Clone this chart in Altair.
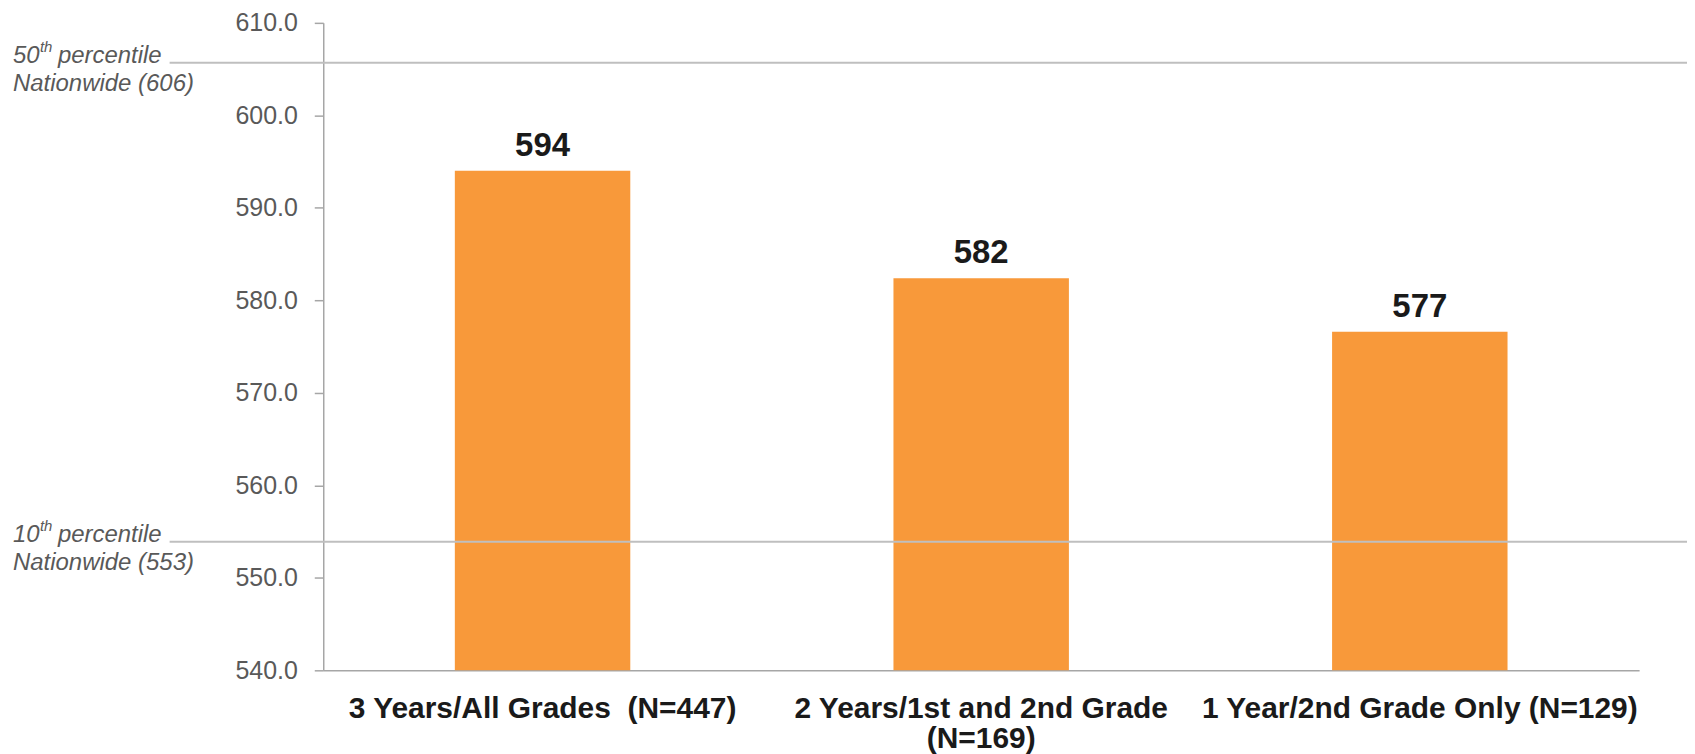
import altair as alt
import pandas as pd

# ---- data ----
categories = [
    "3 Years/All Grades\u00a0\u00a0(N=447)",
    "2 Years/1st and 2nd Grade\n(N=169)",
    "1 Year/2nd Grade Only (N=129)",
]
scores = [594.0, 582.4, 576.6]

# reference lines (as drawn in the picture) and their annotations
line_values = [605.7, 553.9]
line_ranks = ["50", "10"]
line_names = ["Nationwide (606)", "Nationwide (553)"]

y_ticks = [540, 550, 560, 570, 580, 590, 600, 610]

bars_df = pd.DataFrame({"category": categories, "score": scores})
lines_df = pd.DataFrame({"value": line_values, "rank": line_ranks, "name": line_names})

FONT = "Liberation Sans"
BAR_COLOR = "#F8993A"
AXIS_GRAY = "#A6A6A6"
TEXT_GRAY = "#595959"

x_enc = alt.X(
    "category:N",
    sort=categories,
    title=None,
    scale=alt.Scale(paddingInner=0.6, paddingOuter=0.3),
    axis=alt.Axis(
        labelAngle=0,
        labelFont=FONT,
        labelFontSize=30,
        labelFontWeight="bold",
        labelColor="#1A1A1A",
        labelExpr="split(datum.label, '\\n')",
        labelLineHeight=30,
        labelPadding=23,
        labelLimit=600,
        ticks=False,
        tickSize=0,
        domainColor=AXIS_GRAY,
        domainWidth=1.5,
    ),
)
y_scale = alt.Scale(domain=[540, 610], nice=False, zero=False)
y_enc = alt.Y(
    "score:Q",
    title=None,
    scale=y_scale,
    axis=alt.Axis(
        values=y_ticks,
        format=".1f",
        labelFont=FONT,
        labelFontSize=25,
        labelColor=TEXT_GRAY,
        labelPadding=17,
        tickSize=9,
        tickColor=AXIS_GRAY,
        tickWidth=1.5,
        domainColor=AXIS_GRAY,
        domainWidth=1.5,
        grid=False,
    ),
)

base = alt.Chart(bars_df)
bars = base.mark_bar(color=BAR_COLOR).encode(x=x_enc, y=y_enc, y2=alt.datum(540))
values = base.mark_text(
    font=FONT, fontSize=33, fontWeight="bold", color="#1A1A1A",
    baseline="alphabetic", dy=-15,
).encode(x=alt.X("category:N", sort=categories), y=alt.Y("score:Q"),
         text=alt.Text("score:Q", format=".0f"))

lbase = alt.Chart(lines_df)
rules = lbase.mark_rule(color="#BFBFBF", strokeWidth=2).encode(
    y=alt.Y("value:Q"), x=alt.value(-154), x2=alt.value(1375)
)
txt_kw = dict(font=FONT, fontStyle="italic", color=TEXT_GRAY, align="left", baseline="alphabetic")
rank_txt = lbase.mark_text(fontSize=24, dy=0, **txt_kw).encode(
    y="value:Q", x=alt.value(-311), text="rank:N"
)
sup_txt = lbase.mark_text(fontSize=15, dy=-11, **txt_kw).encode(
    y="value:Q", x=alt.value(-284), text=alt.value("th")
)
pct_txt = lbase.mark_text(fontSize=24, dy=0, **txt_kw).encode(
    y="value:Q", x=alt.value(-266), text=alt.value("percentile")
)
name_txt = lbase.mark_text(fontSize=24, dy=28, **txt_kw).encode(
    y="value:Q", x=alt.value(-311), text="name:N"
)

chart = alt.layer(bars, values, rules, rank_txt, sup_txt, pct_txt, name_txt).properties(
    width=1319,
    height=649,
    autosize=alt.AutoSizeParams(type="none"),
    padding={"left": 316, "top": 14, "right": 48, "bottom": 88},
).configure(background="white").configure_view(strokeWidth=0, stroke="transparent")

chart.save("out.html", embed_options={"renderer": "svg", "actions": False})
